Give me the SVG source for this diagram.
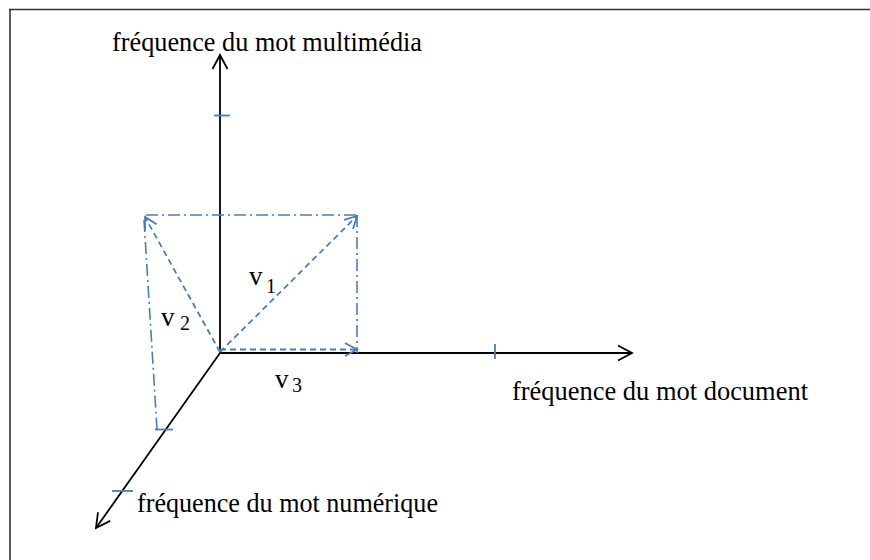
<svg xmlns="http://www.w3.org/2000/svg" width="870" height="560" viewBox="0 0 870 560">
<style>
.frame{stroke:#333;stroke-width:1.6;fill:none}
.axis{stroke:#000;stroke-width:1.8;fill:none}
.tick{stroke:#4A7EBB;stroke-width:1.8;fill:none}
.dd{stroke:#4A7EBB;stroke-width:1.6;fill:none;stroke-dasharray:12 4 2 4}
.vec{stroke:#4A7EBB;stroke-width:1.8;fill:none;stroke-dasharray:6 4}
.lbl{font-family:"Liberation Serif","Times New Roman",serif;font-size:27px;fill:#000}
.sub{font-family:"Liberation Serif","Times New Roman",serif;font-size:20px;fill:#000}
</style>
<defs>
<marker id="ah" markerUnits="userSpaceOnUse" markerWidth="20" markerHeight="20" refX="15" refY="8" orient="auto" viewBox="0 0 20 16">
<path d="M1,0.5 L15,8 L1,15.5" style="stroke:#000;stroke-width:1.8;fill:none"/>
</marker>
<marker id="bh" markerUnits="userSpaceOnUse" markerWidth="20" markerHeight="20" refX="14" refY="8" orient="auto" viewBox="0 0 20 16">
<path d="M2,1.5 L14,8 L2,14.5" style="stroke:#4A7EBB;stroke-width:1.8;fill:none"/>
</marker>
</defs>
<g id="frame">
<line class="frame" x1="9" y1="9.5" x2="870" y2="9.5"/>
<line class="frame" x1="10" y1="9" x2="10" y2="560"/>
</g>
<g id="connectors">
<line class="axis" x1="220" y1="353" x2="220" y2="55" marker-end="url(#ah)"/>
<line class="axis" x1="220" y1="353" x2="632" y2="353" marker-end="url(#ah)"/>
<line class="axis" x1="220" y1="353" x2="96" y2="528" marker-end="url(#ah)"/>
<line class="tick" x1="214" y1="115.5" x2="230" y2="115.5"/>
<line class="tick" x1="495" y1="344" x2="495" y2="359"/>
<line class="tick" x1="155" y1="429.5" x2="173" y2="429.5"/>
<line class="tick" x1="112" y1="491" x2="133" y2="491"/>
<line class="dd" x1="146" y1="215" x2="357" y2="215"/>
<line class="dd" x1="357" y1="215" x2="357" y2="353"/>
<line class="dd" x1="144" y1="220" x2="157" y2="429"/>
<line class="vec" x1="220" y1="352" x2="357" y2="216" marker-end="url(#bh)"/>
<line class="vec" x1="220" y1="352" x2="145" y2="217" marker-end="url(#bh)"/>
<line class="vec" x1="220" y1="349.5" x2="357" y2="349.5" marker-end="url(#bh)"/>
</g>
<g id="label-multimedia"><text class="lbl" x="112" y="51" textLength="310" lengthAdjust="spacingAndGlyphs">fréquence du mot multimédia</text></g>
<g id="label-document"><text class="lbl" x="512" y="400" textLength="296" lengthAdjust="spacingAndGlyphs">fréquence du mot document</text></g>
<g id="label-numerique"><text class="lbl" x="137" y="512" textLength="301" lengthAdjust="spacingAndGlyphs">fréquence du mot numérique</text></g>
<g id="v1"><text class="lbl" x="249" y="285">v</text><text class="sub" x="266" y="293">1</text></g>
<g id="v2"><text class="lbl" x="161" y="326">v</text><text class="sub" x="180" y="330">2</text></g>
<g id="v3"><text class="lbl" x="275" y="388">v</text><text class="sub" x="292" y="392">3</text></g>
</svg>
